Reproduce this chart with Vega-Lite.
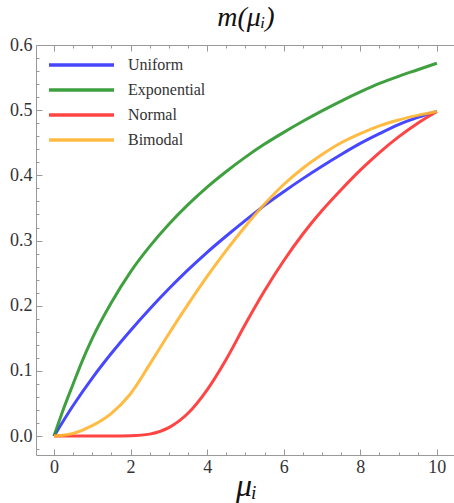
{
  "$schema": "https://vega.github.io/schema/vega-lite/v6.json",
  "width": 420,
  "height": 410,
  "autosize": "none",
  "padding": {"left": 36, "top": 45, "right": 0, "bottom": 48},
  "config": {
    "view": {"stroke": "#999", "strokeWidth": 1},
    "font": "Liberation Serif",
    "axis": {"domain": false, "grid": false, "tickColor": "#999", "labelColor": "#333", "labelFontSize": 18, "labelFont": "Liberation Serif", "titleFont": "Liberation Serif", "titleColor": "#111", "titleFontWeight": "normal"}
  },
  "title": {"text": "m(μᵢ)", "fontSize": 28, "fontStyle": "italic", "font": "Liberation Serif", "fontWeight": "normal", "color": "#111", "offset": 4, "anchor": "middle"},
  "data": {"values": [
    {"mu": 0, "m": 0, "dist": "Uniform"},
    {"mu": 0.5, "m": 0.047, "dist": "Uniform"},
    {"mu": 1, "m": 0.089, "dist": "Uniform"},
    {"mu": 1.5, "m": 0.127, "dist": "Uniform"},
    {"mu": 2, "m": 0.162, "dist": "Uniform"},
    {"mu": 2.5, "m": 0.195, "dist": "Uniform"},
    {"mu": 3, "m": 0.226, "dist": "Uniform"},
    {"mu": 3.5, "m": 0.255, "dist": "Uniform"},
    {"mu": 4, "m": 0.282, "dist": "Uniform"},
    {"mu": 4.5, "m": 0.307, "dist": "Uniform"},
    {"mu": 5, "m": 0.331, "dist": "Uniform"},
    {"mu": 5.5, "m": 0.354, "dist": "Uniform"},
    {"mu": 6, "m": 0.375, "dist": "Uniform"},
    {"mu": 6.5, "m": 0.395, "dist": "Uniform"},
    {"mu": 7, "m": 0.414, "dist": "Uniform"},
    {"mu": 7.5, "m": 0.432, "dist": "Uniform"},
    {"mu": 8, "m": 0.449, "dist": "Uniform"},
    {"mu": 8.5, "m": 0.464, "dist": "Uniform"},
    {"mu": 9, "m": 0.478, "dist": "Uniform"},
    {"mu": 9.5, "m": 0.489, "dist": "Uniform"},
    {"mu": 10, "m": 0.498, "dist": "Uniform"},
    {"mu": 0, "m": 0, "dist": "Exponential"},
    {"mu": 0.25, "m": 0.042, "dist": "Exponential"},
    {"mu": 0.5, "m": 0.08, "dist": "Exponential"},
    {"mu": 0.75, "m": 0.117, "dist": "Exponential"},
    {"mu": 1, "m": 0.15, "dist": "Exponential"},
    {"mu": 1.5, "m": 0.205, "dist": "Exponential"},
    {"mu": 2, "m": 0.252, "dist": "Exponential"},
    {"mu": 2.5, "m": 0.291, "dist": "Exponential"},
    {"mu": 3, "m": 0.325, "dist": "Exponential"},
    {"mu": 3.5, "m": 0.355, "dist": "Exponential"},
    {"mu": 4, "m": 0.382, "dist": "Exponential"},
    {"mu": 4.5, "m": 0.406, "dist": "Exponential"},
    {"mu": 5, "m": 0.428, "dist": "Exponential"},
    {"mu": 5.5, "m": 0.448, "dist": "Exponential"},
    {"mu": 6, "m": 0.466, "dist": "Exponential"},
    {"mu": 6.5, "m": 0.483, "dist": "Exponential"},
    {"mu": 7, "m": 0.499, "dist": "Exponential"},
    {"mu": 7.5, "m": 0.514, "dist": "Exponential"},
    {"mu": 8, "m": 0.528, "dist": "Exponential"},
    {"mu": 8.5, "m": 0.541, "dist": "Exponential"},
    {"mu": 9, "m": 0.552, "dist": "Exponential"},
    {"mu": 9.5, "m": 0.562, "dist": "Exponential"},
    {"mu": 10, "m": 0.572, "dist": "Exponential"},
    {"mu": 0, "m": 0, "dist": "Normal"},
    {"mu": 0.5, "m": 0, "dist": "Normal"},
    {"mu": 1, "m": 0, "dist": "Normal"},
    {"mu": 1.5, "m": 0, "dist": "Normal"},
    {"mu": 2, "m": 0.0005, "dist": "Normal"},
    {"mu": 2.5, "m": 0.003, "dist": "Normal"},
    {"mu": 3, "m": 0.013, "dist": "Normal"},
    {"mu": 3.5, "m": 0.035, "dist": "Normal"},
    {"mu": 4, "m": 0.071, "dist": "Normal"},
    {"mu": 4.5, "m": 0.118, "dist": "Normal"},
    {"mu": 5, "m": 0.172, "dist": "Normal"},
    {"mu": 5.5, "m": 0.223, "dist": "Normal"},
    {"mu": 6, "m": 0.269, "dist": "Normal"},
    {"mu": 6.5, "m": 0.31, "dist": "Normal"},
    {"mu": 7, "m": 0.346, "dist": "Normal"},
    {"mu": 7.5, "m": 0.378, "dist": "Normal"},
    {"mu": 8, "m": 0.408, "dist": "Normal"},
    {"mu": 8.5, "m": 0.435, "dist": "Normal"},
    {"mu": 9, "m": 0.459, "dist": "Normal"},
    {"mu": 9.5, "m": 0.48, "dist": "Normal"},
    {"mu": 10, "m": 0.498, "dist": "Normal"},
    {"mu": 0, "m": 0, "dist": "Bimodal"},
    {"mu": 0.5, "m": 0.004, "dist": "Bimodal"},
    {"mu": 1, "m": 0.016, "dist": "Bimodal"},
    {"mu": 1.5, "m": 0.035, "dist": "Bimodal"},
    {"mu": 2, "m": 0.065, "dist": "Bimodal"},
    {"mu": 2.5, "m": 0.11, "dist": "Bimodal"},
    {"mu": 3, "m": 0.157, "dist": "Bimodal"},
    {"mu": 3.5, "m": 0.202, "dist": "Bimodal"},
    {"mu": 4, "m": 0.245, "dist": "Bimodal"},
    {"mu": 4.5, "m": 0.285, "dist": "Bimodal"},
    {"mu": 5, "m": 0.322, "dist": "Bimodal"},
    {"mu": 5.5, "m": 0.356, "dist": "Bimodal"},
    {"mu": 6, "m": 0.386, "dist": "Bimodal"},
    {"mu": 6.5, "m": 0.411, "dist": "Bimodal"},
    {"mu": 7, "m": 0.432, "dist": "Bimodal"},
    {"mu": 7.5, "m": 0.45, "dist": "Bimodal"},
    {"mu": 8, "m": 0.464, "dist": "Bimodal"},
    {"mu": 8.5, "m": 0.476, "dist": "Bimodal"},
    {"mu": 9, "m": 0.485, "dist": "Bimodal"},
    {"mu": 9.5, "m": 0.492, "dist": "Bimodal"},
    {"mu": 10, "m": 0.498, "dist": "Bimodal"}
  ]},
  "layer": [
    {
      "mark": {"type": "line", "strokeWidth": 3, "interpolate": "monotone", "opacity": 0.9},
      "encoding": {
        "x": {"field": "mu", "type": "quantitative",
          "scale": {"domain": [-0.47, 10.5], "nice": false, "zero": false},
          "axis": {"orient": "bottom", "title": "μᵢ", "titleFontSize": 32, "titleFontStyle": "italic",
            "titleBaseline": "alphabetic", "titleY": 40,
            "values": [0,0.5,1,1.5,2,2.5,3,3.5,4,4.5,5,5.5,6,6.5,7,7.5,8,8.5,9,9.5,10],
            "labelExpr": "datum.value % 2 == 0 ? format(datum.value, 'd') : ''",
            "tickSize": {"condition": {"test": "datum.value % 2 == 0", "value": -6}, "value": -3},
            "labelPadding": 9}},
        "y": {"field": "m", "type": "quantitative",
          "scale": {"domain": [-0.029, 0.6], "nice": false, "zero": false},
          "axis": {"title": null,
            "values": [-0.02,0,0.02,0.04,0.06,0.08,0.1,0.12,0.14,0.16,0.18,0.2,0.22,0.24,0.26,0.28,0.3,0.32,0.34,0.36,0.38,0.4,0.42,0.44,0.46,0.48,0.5,0.52,0.54,0.56,0.58,0.6],
            "labelExpr": "abs(datum.value*10 - round(datum.value*10)) < 0.000001 ? format(datum.value, '.1f') : ''",
            "tickSize": {"condition": {"test": "abs(datum.value*10 - round(datum.value*10)) < 0.000001", "value": -6}, "value": -3},
            "labelPadding": 10}},
        "color": {"field": "dist", "type": "nominal",
          "scale": {"domain": ["Uniform", "Exponential", "Normal", "Bimodal"], "range": ["#3333ff", "#2a962a", "#ff3030", "#ffb42e"]},
          "legend": {"title": null, "orient": "none", "legendX": 10, "legendY": 12,
            "symbolType": "M-1,0H12", "symbolSize": 100, "symbolStrokeWidth": 3.5, "symbolOpacity": 0.9,
            "labelFont": "Liberation Serif", "labelFontSize": 16, "labelColor": "#333", "labelOffset": 66, "rowPadding": 9}}
      }
    },
    {
      "mark": {"type": "line", "opacity": 0},
      "encoding": {
        "x": {"field": "mu", "type": "quantitative",
          "axis": {"orient": "top", "title": null, "labels": false,
            "values": [0,0.5,1,1.5,2,2.5,3,3.5,4,4.5,5,5.5,6,6.5,7,7.5,8,8.5,9,9.5,10],
            "tickSize": {"condition": {"test": "datum.value % 2 == 0", "value": -6}, "value": -3}}}
      }
    }
  ],
  "resolve": {"axis": {"x": "independent"}}
}
